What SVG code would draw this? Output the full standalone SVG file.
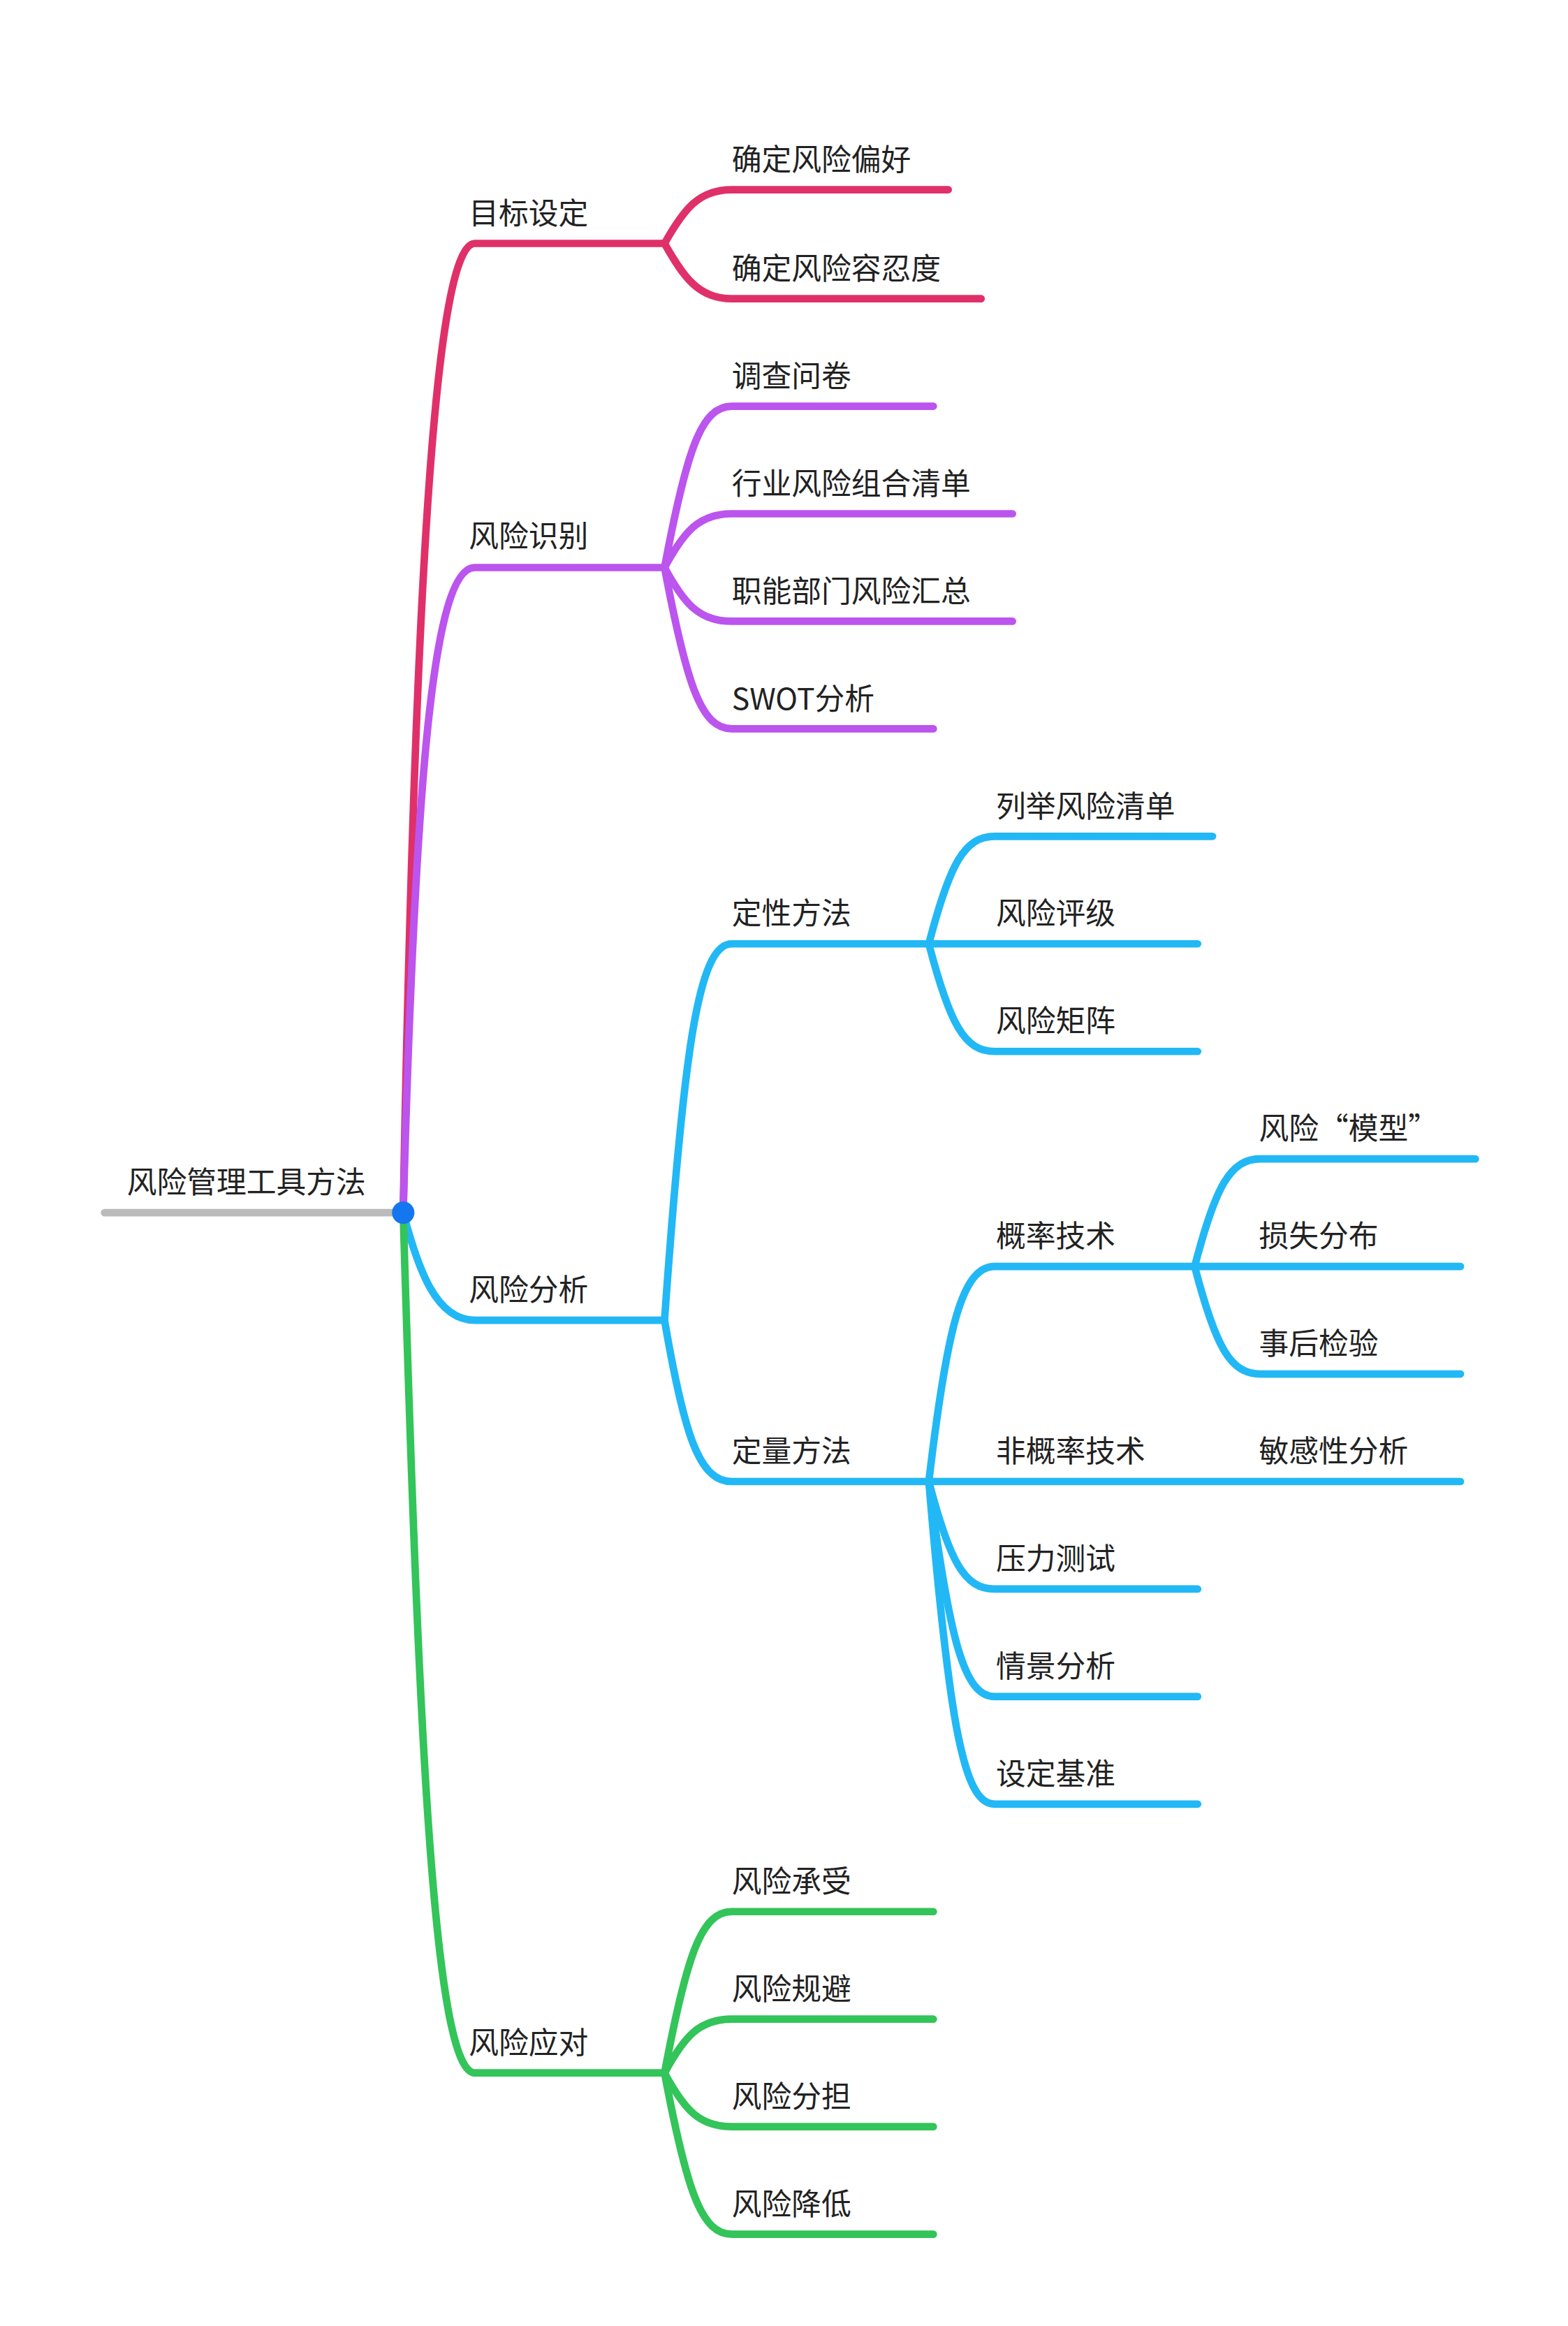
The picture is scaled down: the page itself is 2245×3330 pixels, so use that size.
<svg xmlns="http://www.w3.org/2000/svg" width="2245" height="3330" viewBox="0 0 2245 3330">
<style>
text{font-family:"Noto Sans CJK SC","Noto Sans",sans-serif;font-size:20px;fill:#222}
path{fill:none;stroke-width:5;stroke-linecap:round}
.r{stroke:#E0306A}.p{stroke:#BB55EE}.b{stroke:#22B8F5}.g{stroke:#33C45A}
</style>
<rect width="2245" height="3330" fill="#fff"/>
<g transform="scale(2.1381)">
<g id="connectors">
<path d="M70 812 L265 812" stroke="#BBBBBB"/>
<path class="r" d="M270 812 C278 380 292 163 318 163 L445 163"/>
<path class="p" d="M270 812 C278 520 290 380 318 380 L445 380"/>
<path class="b" d="M270 812 C280 850 292 884 318 884 L445 884"/>
<path class="g" d="M270 812 C280 1150 290 1388 318 1388 L445 1388"/>
<path class="r" d="M445 163 C458 140 468 127 490 127 L635 127"/>
<path class="r" d="M445 163 C458 186 468 200 490 200 L657 200"/>
<path class="p" d="M445 380 C460 300 470 272 490 272 L625 272"/>
<path class="p" d="M445 380 C458 356 468 344 490 344 L678 344"/>
<path class="p" d="M445 380 C458 404 468 416 490 416 L678 416"/>
<path class="p" d="M445 380 C460 460 470 488 490 488 L625 488"/>
<path class="b" d="M445 884 C458 700 468 632 490 632 L620 632"/>
<path class="b" d="M445 884 C458 960 468 992 490 992 L620 992"/>
<path class="b" d="M622 632 C636 578 646 560 666 560 L812 560"/>
<path class="b" d="M622 632 L802 632"/>
<path class="b" d="M622 632 C636 686 646 704 666 704 L802 704"/>
<path class="b" d="M622 992 C634 890 644 848 666 848 L798 848"/>
<path class="b" d="M622 992 L978 992"/>
<path class="b" d="M622 992 C636 1046 646 1064 666 1064 L802 1064"/>
<path class="b" d="M622 992 C636 1100 646 1136 666 1136 L802 1136"/>
<path class="b" d="M622 992 C636 1160 646 1208 666 1208 L802 1208"/>
<path class="b" d="M800 848 C814 794 824 776 844 776 L988 776"/>
<path class="b" d="M800 848 L978 848"/>
<path class="b" d="M800 848 C814 902 824 920 844 920 L978 920"/>
<path class="g" d="M445 1388 C460 1308 470 1280 490 1280 L625 1280"/>
<path class="g" d="M445 1388 C458 1364 468 1352 490 1352 L625 1352"/>
<path class="g" d="M445 1388 C458 1412 468 1424 490 1424 L625 1424"/>
<path class="g" d="M445 1388 C460 1468 470 1496 490 1496 L625 1496"/>
</g>
<g id="root"><text x="85" y="799">风险管理工具方法</text><circle cx="270" cy="812" r="7.5" fill="#1477F0"/></g>
<g id="n1"><text x="314" y="150">目标设定</text></g>
<g id="n1a"><text x="490" y="114">确定风险偏好</text></g>
<g id="n1b"><text x="490" y="187">确定风险容忍度</text></g>
<g id="n2"><text x="314" y="366">风险识别</text></g>
<g id="n2a"><text x="490" y="259">调查问卷</text></g>
<g id="n2b"><text x="490" y="331">行业风险组合清单</text></g>
<g id="n2c"><text x="490" y="403">职能部门风险汇总</text></g>
<g id="n2d"><text x="490" y="475">SWOT分析</text></g>
<g id="n3"><text x="314" y="871">风险分析</text></g>
<g id="n3a"><text x="490" y="619">定性方法</text></g>
<g id="n3a1"><text x="667" y="547">列举风险清单</text></g>
<g id="n3a2"><text x="667" y="619">风险评级</text></g>
<g id="n3a3"><text x="667" y="691">风险矩阵</text></g>
<g id="n3b"><text x="490" y="979">定量方法</text></g>
<g id="n3b1"><text x="667" y="835">概率技术</text></g>
<g id="n3b1a"><text x="843" y="763">风险“模型”</text></g>
<g id="n3b1b"><text x="843" y="835">损失分布</text></g>
<g id="n3b1c"><text x="843" y="907">事后检验</text></g>
<g id="n3b2"><text x="667" y="979">非概率技术</text></g>
<g id="n3b2a"><text x="843" y="979">敏感性分析</text></g>
<g id="n3b3"><text x="667" y="1051">压力测试</text></g>
<g id="n3b4"><text x="667" y="1123">情景分析</text></g>
<g id="n3b5"><text x="667" y="1195">设定基准</text></g>
<g id="n4"><text x="314" y="1375">风险应对</text></g>
<g id="n4a"><text x="490" y="1267">风险承受</text></g>
<g id="n4b"><text x="490" y="1339">风险规避</text></g>
<g id="n4c"><text x="490" y="1411">风险分担</text></g>
<g id="n4d"><text x="490" y="1483">风险降低</text></g>
</g>
</svg>
